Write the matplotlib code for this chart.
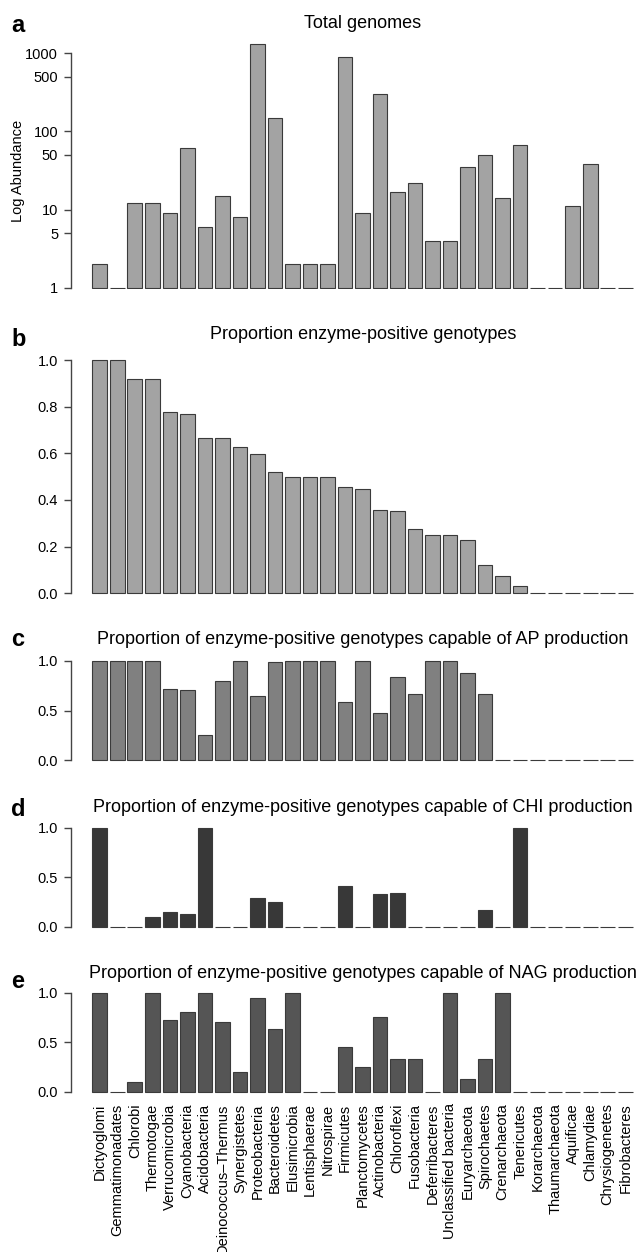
import numpy as np
import matplotlib
matplotlib.use('Agg')
import matplotlib.pyplot as plt

plt.rcParams['font.family'] = ['Liberation Sans', 'DejaVu Sans']

# Data
phyla = ["Dictyoglomi", "Gemmatimonadates", "Chlorobi", "Thermotogae",
         "Verrucomicrobia", "Cyanobacteria", "Acidobacteria",
         "Deinococcus\u2013Thermus", "Synergistetes", "Proteobacteria",
         "Bacteroidetes", "Elusimicrobia", "Lentisphaerae", "Nitrospirae",
         "Firmicutes", "Planctomycetes", "Actinobacteria", "Chloroflexi",
         "Fusobacteria", "Deferribacteres", "Unclassified bacteria",
         "Euryarchaeota", "Spirochaetes", "Crenarchaeota", "Tenericutes",
         "Korarchaeota", "Thaumarchaeota", "Aquificae", "Chlamydiae",
         "Chrysiogenetes", "Fibrobacteres"]

total_genomes = [2, 1, 12, 12, 9, 61, 6, 15, 8, 1330, 150, 2, 2, 2, 890, 9,
                 305, 17, 22, 4, 4, 35, 50, 14, 68, 1, 1, 11, 38, 1, 1]

prop_positive = [1.0, 1.0, 0.917, 0.917, 0.778, 0.77, 0.667, 0.667, 0.625,
                 0.596, 0.522, 0.5, 0.5, 0.5, 0.454, 0.446, 0.356, 0.353,
                 0.274, 0.25, 0.25, 0.23, 0.121, 0.073, 0.031,
                 0, 0, 0, 0, 0, 0]

prop_ap = [1.0, 1.0, 1.0, 1.0, 0.717, 0.704, 0.25, 0.8, 1.0, 0.65, 0.987,
           1.0, 1.0, 1.0, 0.589, 1.0, 0.475, 0.835, 0.667, 1.0, 1.0, 0.879,
           0.667, 0, 0, 0, 0, 0, 0, 0, 0]

prop_chi = [1.0, 0, 0, 0.094, 0.144, 0.131, 1.0, 0, 0, 0.292, 0.252, 0, 0,
            0, 0.409, 0, 0.329, 0.339, 0, 0, 0, 0, 0.171, 0, 1.0,
            0, 0, 0, 0, 0, 0]

prop_nag = [1.0, 0, 0.095, 1.0, 0.72, 0.81, 1.0, 0.703, 0.203, 0.943,
            0.635, 1.0, 0, 0, 0.453, 0.25, 0.757, 0.334, 0.334, 0, 1.0,
            0.128, 0.334, 1.0, 0, 0, 0, 0, 0, 0, 0]

W, H = 639, 1252
fig = plt.figure(figsize=(W / 100, H / 100), dpi=100)

# bar positions R-style: width 1, space 0.2
x = 0.7 + 1.2 * np.arange(len(phyla))
xlim = (-1.29, 37.6)
ax_left = 70.7 / W
ax_width = (638.4 - 70.7) / W


def add_panel(p0, p1, lo, hi, log=False):
    # p0 = pixel row of value 0 (or log 0), p1 = pixel row of value 1 (or log 3)
    if log:
        scale = (p0 - p1) / 3.0
        bot = p0 + scale * (-np.log10(lo))
        top = p0 - scale * np.log10(hi)
    else:
        scale = p0 - p1
        bot = p0 - scale * lo
        top = p0 - scale * hi
    ax = fig.add_axes([ax_left, 1 - bot / H, ax_width, (bot - top) / H])
    ax.set_xlim(*xlim)
    ax.set_ylim(lo, hi)
    if log:
        ax.set_yscale('log')
    for s in ['top', 'right', 'bottom']:
        ax.spines[s].set_visible(False)
    ax.spines['left'].set_color('#444444')
    ax.spines['left'].set_linewidth(1.0)
    ax.tick_params(axis='y', length=5, width=1.0, color='#444444',
                   labelsize=10.5, pad=4)
    ax.tick_params(axis='x', length=0)
    ax.set_xticks([])
    ax.minorticks_off()
    return ax


edge = '#3a3a3a'

# a: total genomes (log)
ax_a = add_panel(287.7, 53.3, 0.95, 1500, log=True)
ax_a.bar(x, np.array(total_genomes) - 1, bottom=1, width=1.0,
         color='#a3a3a3', edgecolor=edge, linewidth=0.8)
ax_a.set_yticks([1, 5, 10, 50, 100, 500, 1000])
ax_a.set_yticklabels(['1', '5', '10', '50', '100', '500', '1000'])
ax_a.minorticks_off()
ax_a.spines['left'].set_bounds(1, 1000)
fig.text(18 / W, 1 - 170.5 / H, 'Log Abundance', rotation=90,
         ha='center', va='center', fontsize=10.5)

# b: proportion enzyme-positive
ax_b = add_panel(593.3, 360.0, -0.01, 1.02)
ax_b.bar(x, prop_positive, width=1.0, color='#a3a3a3', edgecolor=edge,
         linewidth=0.8)
ax_b.set_yticks([0, 0.2, 0.4, 0.6, 0.8, 1.0])
ax_b.set_yticklabels(['0.0', '0.2', '0.4', '0.6', '0.8', '1.0'])
ax_b.spines['left'].set_bounds(0, 1)

# c: AP
ax_c = add_panel(760.0, 661.0, -0.02, 1.02)
ax_c.bar(x, prop_ap, width=1.0, color='#808080', edgecolor=edge,
         linewidth=0.8)

# d: CHI
ax_d = add_panel(926.7, 827.7, -0.02, 1.02)
ax_d.bar(x, prop_chi, width=1.0, color='#383838', edgecolor=edge,
         linewidth=0.8)

# e: NAG
ax_e = add_panel(1091.7, 992.8, -0.02, 1.02)
ax_e.bar(x, prop_nag, width=1.0, color='#555555', edgecolor=edge,
         linewidth=0.8)
ax_e.set_xticks(x)
ax_e.set_xticklabels(phyla, rotation=90, fontsize=10.5)
ax_e.tick_params(axis='x', length=0, pad=7)

for ax in [ax_c, ax_d, ax_e]:
    ax.set_yticks([0, 0.5, 1.0])
    ax.set_yticklabels(['0.0', '0.5', '1.0'])
    ax.spines['left'].set_bounds(0, 1)

titles = ["Total genomes",
          "Proportion enzyme-positive genotypes",
          "Proportion of enzyme-positive genotypes capable of AP production",
          "Proportion of enzyme-positive genotypes capable of CHI production",
          "Proportion of enzyme-positive genotypes capable of NAG production"]
title_y = [24, 334.3, 639.3, 807, 973]
letters = ['a', 'b', 'c', 'd', 'e']
letter_y = [25, 339, 640, 810, 982]

for t, ty in zip(titles, title_y):
    fig.text(363 / W, 1 - ty / H, t, ha='center', va='center', fontsize=13)
for l, ly in zip(letters, letter_y):
    fig.text(11 / W, 1 - ly / H, l, ha='left', va='center', fontsize=17,
             fontweight='bold')

fig.savefig('out.png', dpi=100)
